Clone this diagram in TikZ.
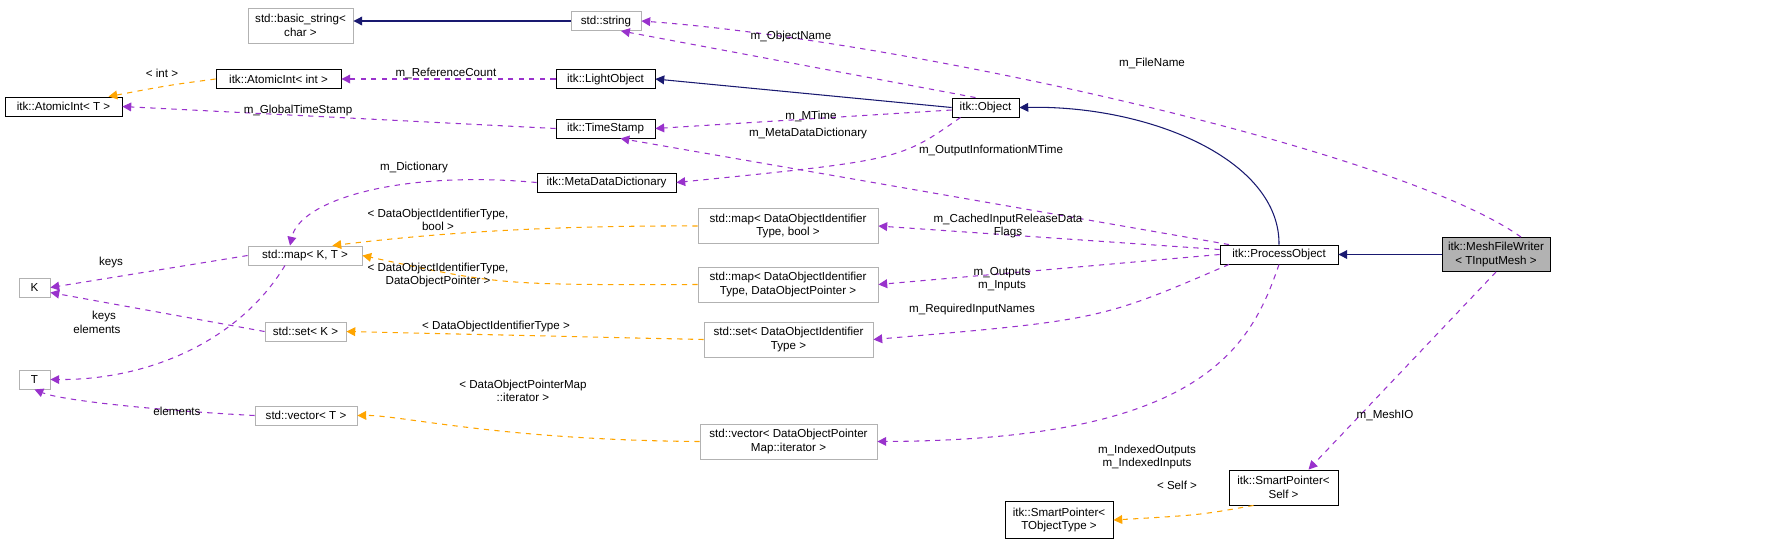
\documentclass[tikz,border=0pt]{standalone}
\usepackage{fontspec}
\setmainfont{Liberation Sans}
\usetikzlibrary{arrows.meta}
\definecolor{inh}{RGB}{25,25,112}
\definecolor{use}{RGB}{153,50,204}
\definecolor{tpl}{RGB}{255,165,0}
\begin{document}
\begin{tikzpicture}[x=0.02cm, y=-0.02cm, >={Triangle[length=5pt,width=5pt]}]
  % Styles
  \tikzstyle{cls}=[draw=black, line width=0.5pt, inner sep=1pt, minimum height=0.38cm, align=center, font=\fontsize{6.6}{7.6}\selectfont]
  \tikzstyle{ext}=[cls, draw=gray!60]
  \tikzstyle{cur}=[cls, fill=gray!60]
  \tikzstyle{base}=[->, draw=inh, line width=0.6pt]
  \tikzstyle{member}=[->, draw=use, dashed, line width=0.6pt]
  \tikzstyle{targ}=[->, draw=tpl, dashed, line width=0.6pt]
  \tikzstyle{lab}=[align=center, inner sep=0pt, font=\fontsize{6.6}{7.6}\selectfont]
  \useasboundingbox (0,0) rectangle (1768,549);

  % Classes
  \node[ext, minimum width=2.1cm, minimum height=0.7cm] (bstr) at (300.5,25.5) {std::basic\_string<\\char >};
  \node[ext, minimum width=1.4cm] (str) at (606,21) {std::string};
  \node[cls, minimum width=2.5cm] (aint) at (278.5,79) {itk::AtomicInt< int >};
  \node[cls, minimum width=1.98cm] (lobj) at (605.5,79) {itk::LightObject};
  \node[cls, minimum width=2.34cm] (atomT) at (63.5,106.5) {itk::AtomicInt< T >};
  \node[cls, minimum width=1.98cm] (tstamp) at (605.5,128.5) {itk::TimeStamp};
  \node[cls, minimum width=1.34cm] (obj) at (985.5,107.5) {itk::Object};
  \node[cls, minimum width=2.78cm] (mdd) at (606.5,182.5) {itk::MetaDataDictionary};
  \node[ext, minimum width=3.6cm, minimum height=0.7cm] (mapbool) at (788,226) {std::map< DataObjectIdentifier\\Type, bool >};
  \node[cls, minimum width=2.36cm] (pobj) at (1279,254.5) {itk::ProcessObject};
  \node[cur, minimum width=2.16cm, minimum height=0.68cm] (writer) at (1496,254.5) {itk::MeshFileWriter\\< TInputMesh >};
  \node[ext, minimum width=2.28cm] (mapKT) at (305,255.5) {std::map< K, T >};
  \node[ext, minimum width=3.6cm, minimum height=0.7cm] (mapdop) at (788,284.5) {std::map< DataObjectIdentifier\\Type, DataObjectPointer >};
  \node[ext, minimum width=0.62cm] (K) at (34.5,287.5) {K};
  \node[ext, minimum width=1.62cm] (setK) at (305.5,331.5) {std::set< K >};
  \node[ext, minimum width=3.38cm, minimum height=0.7cm] (setdoi) at (788.5,339.5) {std::set< DataObjectIdentifier\\Type >};
  \node[ext, minimum width=0.62cm] (T) at (34.5,379.5) {T};
  \node[ext, minimum width=2.04cm] (vecT) at (306,415.5) {std::vector< T >};
  \node[ext, minimum width=3.54cm, minimum height=0.7cm] (vecdop) at (788.5,441.5) {std::vector< DataObjectPointer\\Map::iterator >};
  \node[cls, minimum width=2.18cm, minimum height=0.7cm] (spself) at (1283.5,487.5) {itk::SmartPointer<\\Self >};
  \node[cls, minimum width=2.16cm, minimum height=0.74cm] (spobj) at (1059,520) {itk::SmartPointer<\\TObjectType >};

  % Inheritance
  \draw[base] (str.west) -- (bstr.east |- str.west);
  \draw[base] (obj.west) -- (lobj.east);
  \draw[base] (pobj.north) .. controls (1280,160) and (1150,105) .. (obj.east);
  \draw[base] (writer.west) -- (pobj.east);

  % Members
  \draw[member] ([xshift=-0.2cm]obj.north) -- ([xshift=0.3cm]str.south);
  \draw[member] ([xshift=0.5cm]writer.north) .. controls (1400,150) and (900,40) .. (str.east);
  \draw[member] (lobj.west) -- (aint.east);
  \draw[member] (tstamp.west) -- (atomT.east);
  \draw[member] ([yshift=-0.05cm]obj.west) -- (tstamp.east);
  \draw[member] ([xshift=-0.5cm]obj.south) .. controls (900,160) .. (mdd.east);
  \draw[member] ([xshift=-1cm]pobj.north) -- ([xshift=0.3cm]tstamp.south);
  \draw[member] (mdd.west) .. controls (400,170) and (300,200) .. ([xshift=-0.3cm]mapKT.north);
  \draw[member] ([yshift=0.1cm]pobj.west) -- (mapbool.east);
  \draw[member] (pobj.west) -- (mapdop.east);
  \draw[member] ([xshift=-1cm]pobj.south) .. controls (1100,320) .. (setdoi.east);
  \draw[member] (pobj.south) .. controls (1250,350) and (1200,440) .. (vecdop.east);
  \draw[member] (mapKT.west) -- (K.east);
  \draw[member] (setK.west) -- ([yshift=-0.1cm]K.east);
  \draw[member] ([xshift=-0.4cm]mapKT.south) .. controls (240,340) and (150,380) .. (T.east);
  \draw[member] (vecT.west) .. controls (150,410) and (60,400) .. (T.south);
  \draw[member] (writer.south) -- ([xshift=0.5cm]spself.north);

  % Template arguments
  \draw[targ] (aint.west) .. controls (170,85) .. ([xshift=0.9cm]atomT.north);
  \draw[targ] (mapbool.west) .. controls (500,225) and (380,240) .. ([xshift=-0.6cm]mapKT.north east);
  \draw[targ] (mapdop.west) .. controls (500,285) .. (mapKT.east);
  \draw[targ] (setdoi.west) -- (setK.east);
  \draw[targ] (vecdop.west) .. controls (500,440) and (400,415) .. (vecT.east);
  \draw[targ] ([xshift=-0.6cm]spself.south) .. controls (1200,515) .. (spobj.east);

  % Labels
  \node[lab] (l_objname) at (791,36) {m\_ObjectName};
  \node[lab] (l_filename) at (1152,63) {m\_FileName};
  \node[lab] (l_refcount) at (446,73) {m\_ReferenceCount};
  \node[lab] (l_int) at (162,73) {< int >};
  \node[lab] (l_gts) at (298,110) {m\_GlobalTimeStamp};
  \node[lab] (l_mtime) at (811,116) {m\_MTime};
  \node[lab] (l_mdd) at (808,133) {m\_MetaDataDictionary};
  \node[lab] (l_oimt) at (991,150) {m\_OutputInformationMTime};
  \node[lab] (l_dict) at (414,167) {m\_Dictionary};
  \node[lab] (l_doibool) at (438,220) {< DataObjectIdentifierType,\\bool >};
  \node[lab] (l_cached) at (1008,226) {m\_CachedInputReleaseData\\Flags};
  \node[lab] (l_outin) at (1002,279) {m\_Outputs\\m\_Inputs};
  \node[lab] (l_doidop) at (438,275) {< DataObjectIdentifierType,\\DataObjectPointer >};
  \node[lab] (l_reqin) at (972,309) {m\_RequiredInputNames};
  \node[lab] (l_keys1) at (111,262) {keys};
  \node[lab] (l_keys2) at (104,316) {keys};
  \node[lab] (l_elem1) at (97,329) {elements};
  \node[lab] (l_elem2) at (177,411) {elements};
  \node[lab] (l_doi) at (496,326) {< DataObjectIdentifierType >};
  \node[lab] (l_dopm) at (523,391) {< DataObjectPointerMap\\::iterator >};
  \node[lab] (l_indexed) at (1147,457) {m\_IndexedOutputs\\m\_IndexedInputs};
  \node[lab] (l_meshio) at (1385,415) {m\_MeshIO};
  \node[lab] (l_self) at (1177,485) {< Self >};
\end{tikzpicture}
\end{document}
